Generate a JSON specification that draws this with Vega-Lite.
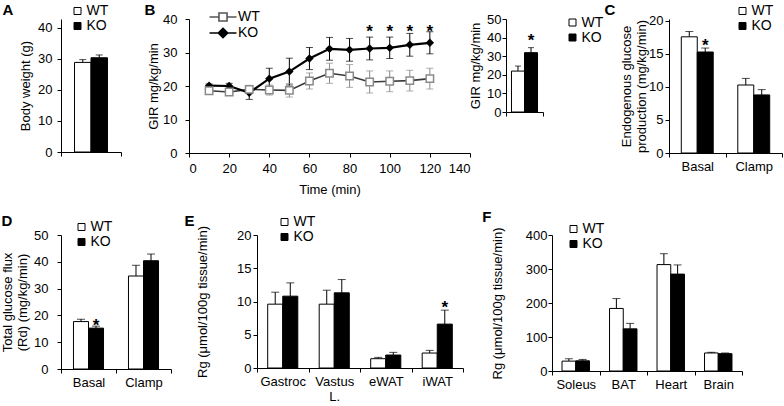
{
"$schema": "https://vega.github.io/schema/vega-lite/v6.json",
"padding": {"left": 1, "top": 2, "right": 0, "bottom": 0},
"background": "white",
"config": {
  "font": "Liberation Sans",
  "view": {"stroke": null},
  "axis": {"grid": false, "domainColor": "black", "tickColor": "black", "labelColor": "black", "titleColor": "black", "labelFontSize": 13, "titleFontSize": 13, "titleFontWeight": "normal", "tickSize": 4, "domainWidth": 1, "tickWidth": 1, "labelFont": "Liberation Sans", "titleFont": "Liberation Sans", "titleLineHeight": 15},
  "legend": {"orient": "none", "labelFontSize": 14, "labelColor": "black", "labelFont": "Liberation Sans", "padding": 0, "rowPadding": 1, "labelOffset": 2, "symbolSize": 49, "symbolType": "square", "symbolStrokeWidth": 1, "symbolStrokeColor": "black"},
  "title": {"fontSize": 15, "fontWeight": "bold", "anchor": "start", "frame": "bounds", "color": "black", "font": "Liberation Sans"}
},
"datasets": {
  "bars": [
    {"panel": "A", "cat": "Body", "group": "WT", "value": 28.9, "hi": 29.8},
    {"panel": "A", "cat": "Body", "group": "KO", "value": 30.4, "hi": 31.3},
    {"panel": "GIR", "cat": "GIR", "group": "WT", "value": 22.0, "hi": 24.7},
    {"panel": "GIR", "cat": "GIR", "group": "KO", "value": 31.9, "hi": 34.6, "star": 40.9},
    {"panel": "C", "cat": "Basal", "group": "WT", "value": 17.6, "hi": 18.4},
    {"panel": "C", "cat": "Basal", "group": "KO", "value": 15.3, "hi": 15.9, "star": 16.9},
    {"panel": "C", "cat": "Clamp", "group": "WT", "value": 10.3, "hi": 11.3},
    {"panel": "C", "cat": "Clamp", "group": "KO", "value": 8.8, "hi": 9.6},
    {"panel": "D", "cat": "Basal", "group": "WT", "value": 17.7, "hi": 18.6},
    {"panel": "D", "cat": "Basal", "group": "KO", "value": 15.25, "hi": 16.0, "star": 17.9},
    {"panel": "D", "cat": "Clamp", "group": "WT", "value": 34.7, "hi": 38.7},
    {"panel": "D", "cat": "Clamp", "group": "KO", "value": 40.4, "hi": 42.9},
    {"panel": "E", "cat": "Gastroc", "group": "WT", "value": 9.6, "hi": 11.4},
    {"panel": "E", "cat": "Gastroc", "group": "KO", "value": 10.8, "hi": 12.8},
    {"panel": "E", "cat": "Vastus L.", "group": "WT", "value": 9.6, "hi": 11.7},
    {"panel": "E", "cat": "Vastus L.", "group": "KO", "value": 11.3, "hi": 13.3},
    {"panel": "E", "cat": "eWAT", "group": "WT", "value": 1.4, "hi": 1.6},
    {"panel": "E", "cat": "eWAT", "group": "KO", "value": 1.95, "hi": 2.35},
    {"panel": "E", "cat": "iWAT", "group": "WT", "value": 2.25, "hi": 2.65},
    {"panel": "E", "cat": "iWAT", "group": "KO", "value": 6.6, "hi": 8.7, "star": 9.8},
    {"panel": "F", "cat": "Soleus", "group": "WT", "value": 29, "hi": 36},
    {"panel": "F", "cat": "Soleus", "group": "KO", "value": 30, "hi": 34},
    {"panel": "F", "cat": "BAT", "group": "WT", "value": 184, "hi": 213},
    {"panel": "F", "cat": "BAT", "group": "KO", "value": 124, "hi": 140},
    {"panel": "F", "cat": "Heart", "group": "WT", "value": 313, "hi": 345},
    {"panel": "F", "cat": "Heart", "group": "KO", "value": 285, "hi": 312},
    {"panel": "F", "cat": "Brain", "group": "WT", "value": 53, "hi": 55},
    {"panel": "F", "cat": "Brain", "group": "KO", "value": 51, "hi": 53}
  ],
  "gir": [
    {"t": 10, "group": "WT", "mean": 18.6, "lo": 17.9, "hi": 19.3},
    {"t": 20, "group": "WT", "mean": 18.2, "lo": 17.5, "hi": 18.9},
    {"t": 30, "group": "WT", "mean": 19.0, "lo": 17.8, "hi": 20.2},
    {"t": 40, "group": "WT", "mean": 18.8, "lo": 17.3, "hi": 20.3},
    {"t": 50, "group": "WT", "mean": 18.7, "lo": 16.7, "hi": 20.7},
    {"t": 60, "group": "WT", "mean": 21.5, "lo": 19.1, "hi": 23.9},
    {"t": 70, "group": "WT", "mean": 23.8, "lo": 20.8, "hi": 26.8},
    {"t": 80, "group": "WT", "mean": 23.0, "lo": 19.6, "hi": 26.4},
    {"t": 90, "group": "WT", "mean": 21.2, "lo": 17.9, "hi": 24.5},
    {"t": 100, "group": "WT", "mean": 21.4, "lo": 18.3, "hi": 24.5},
    {"t": 110, "group": "WT", "mean": 21.6, "lo": 18.5, "hi": 24.7},
    {"t": 120, "group": "WT", "mean": 22.2, "lo": 19.1, "hi": 25.3},
    {"t": 10, "group": "KO", "mean": 20.1, "lo": 19.6, "hi": 20.6},
    {"t": 20, "group": "KO", "mean": 20.0, "lo": 19.2, "hi": 20.8},
    {"t": 30, "group": "KO", "mean": 18.0, "lo": 16.0, "hi": 20.0},
    {"t": 40, "group": "KO", "mean": 22.2, "lo": 19.1, "hi": 25.3},
    {"t": 50, "group": "KO", "mean": 24.3, "lo": 20.3, "hi": 28.3},
    {"t": 60, "group": "KO", "mean": 28.2, "lo": 24.9, "hi": 31.5},
    {"t": 70, "group": "KO", "mean": 31.1, "lo": 27.7, "hi": 34.5},
    {"t": 80, "group": "KO", "mean": 30.8, "lo": 27.4, "hi": 34.2},
    {"t": 90, "group": "KO", "mean": 31.2, "lo": 27.8, "hi": 34.6, "star": 37.7},
    {"t": 100, "group": "KO", "mean": 31.4, "lo": 28.2, "hi": 34.6, "star": 37.7},
    {"t": 110, "group": "KO", "mean": 32.3, "lo": 28.9, "hi": 35.7, "star": 37.7},
    {"t": 120, "group": "KO", "mean": 32.9, "lo": 29.6, "hi": 36.2, "star": 37.7}
  ]
},
"resolve": {"scale": {"x": "independent", "y": "independent", "xOffset": "independent", "fill": "independent", "stroke": "independent", "shape": "independent", "color": "independent"}},
"spacing": 13,
"vconcat": [
  {
    "concat": [
      {
        "width": 60, "height": 133,
        "title": {"text": "A", "dx": -17, "offset": -13.7},
        "data": {"name": "bars"},
        "transform": [{"filter": "datum.panel === 'A'"}],
        "encoding": {
          "x": {"field": "cat", "type": "nominal", "sort": null, "scale": {"paddingInner": 0, "paddingOuter": 0}, "axis": {"title": null, "labels": false, "tickBand": "extent"}},
          "xOffset": {"field": "group", "type": "nominal", "sort": ["WT", "KO"], "scale": {"paddingInner": 0, "paddingOuter": 0.82}}
        },
        "layer": [
          {"mark": {"type": "rule", "color": "black"}, "encoding": {"y": {"field": "value", "type": "quantitative", "scale": {"domain": [0, 42.9], "nice": false}, "axis": {"title": "Body weight (g)", "values": [0, 10, 20, 30, 40], "labelPadding": 5, "titlePadding": 5}}, "y2": {"field": "hi"}}},
          {"mark": {"type": "tick", "color": "black", "size": 7, "thickness": 1}, "encoding": {"y": {"field": "hi", "type": "quantitative", "scale": {"domain": [0, 42.9], "nice": false}, "axis": {"title": "Body weight (g)", "values": [0, 10, 20, 30, 40], "labelPadding": 5, "titlePadding": 5}}}},
          {"mark": {"type": "bar", "stroke": "black", "strokeWidth": 1}, "encoding": {"y": {"field": "value", "type": "quantitative", "scale": {"domain": [0, 42.9], "nice": false}, "axis": {"title": "Body weight (g)", "values": [0, 10, 20, 30, 40], "labelPadding": 5, "titlePadding": 5}}, "fill": {"field": "group", "type": "nominal", "scale": {"domain": ["WT", "KO"], "range": ["white", "black"]}, "legend": {"title": null, "legendX": 9.5, "legendY": -15}}}}
        ]
      },
      {
        "concat": [
          {
            "spacing": -2,
            "resolve": {"scale": {"x": "independent", "y": "independent", "xOffset": "independent", "fill": "independent", "stroke": "independent", "shape": "independent", "color": "independent"}},
            "hconcat": [
              {
                "width": 281, "height": 134,
                "title": {"text": "B", "dx": -3, "offset": -8.7},
                "data": {"name": "gir"},
                "encoding": {
                  "x": {"field": "t", "type": "quantitative", "scale": {"domain": [0, 140], "nice": false}, "axis": {"title": "Time (min)", "values": [0, 20, 40, 60, 80, 100, 120, 140], "labelPadding": 5, "titlePadding": 8}}
                },
                "layer": [
                  {"mark": {"type": "rule", "strokeWidth": 1}, "encoding": {"y": {"field": "lo", "type": "quantitative", "scale": {"domain": [0, 40], "nice": false}, "axis": {"title": "GIR mg/kg/min", "values": [0, 10, 20, 30, 40], "labelPadding": 8, "titlePadding": 2}}, "y2": {"field": "hi"}, "color": {"condition": {"test": "datum.group === 'WT'", "value": "#8a8a8a"}, "value": "black"}}},
                  {"mark": {"type": "tick", "orient": "horizontal", "size": 7, "thickness": 1}, "encoding": {"y": {"field": "lo", "type": "quantitative", "scale": {"domain": [0, 40], "nice": false}, "axis": {"title": "GIR mg/kg/min", "values": [0, 10, 20, 30, 40], "labelPadding": 8, "titlePadding": 2}}, "color": {"condition": {"test": "datum.group === 'WT'", "value": "#8a8a8a"}, "value": "black"}}},
                  {"mark": {"type": "tick", "orient": "horizontal", "size": 7, "thickness": 1}, "encoding": {"y": {"field": "hi", "type": "quantitative", "scale": {"domain": [0, 40], "nice": false}, "axis": {"title": "GIR mg/kg/min", "values": [0, 10, 20, 30, 40], "labelPadding": 8, "titlePadding": 2}}, "color": {"condition": {"test": "datum.group === 'WT'", "value": "#8a8a8a"}, "value": "black"}}},
                  {"transform": [{"filter": "datum.group === 'WT'"}], "mark": {"type": "line", "color": "#3a3a3a", "strokeWidth": 1.6}, "encoding": {"y": {"field": "mean", "type": "quantitative", "scale": {"domain": [0, 40], "nice": false}, "axis": {"title": "GIR mg/kg/min", "values": [0, 10, 20, 30, 40], "labelPadding": 8, "titlePadding": 2}}}},
                  {"transform": [{"filter": "datum.group === 'KO'"}], "mark": {"type": "line", "color": "black", "strokeWidth": 2.2}, "encoding": {"y": {"field": "mean", "type": "quantitative", "scale": {"domain": [0, 40], "nice": false}, "axis": {"title": "GIR mg/kg/min", "values": [0, 10, 20, 30, 40], "labelPadding": 8, "titlePadding": 2}}}},
                  {"transform": [{"filter": "datum.group === 'KO'"}], "mark": {"type": "point", "shape": "diamond", "filled": true, "color": "black", "size": 70, "opacity": 1}, "encoding": {"y": {"field": "mean", "type": "quantitative", "scale": {"domain": [0, 40], "nice": false}, "axis": {"title": "GIR mg/kg/min", "values": [0, 10, 20, 30, 40], "labelPadding": 8, "titlePadding": 2}}}},
                  {"transform": [{"filter": "datum.group === 'WT'"}], "mark": {"type": "point", "shape": "square", "filled": true, "fill": "white", "stroke": "#8a8a8a", "strokeWidth": 1.5, "size": 55, "opacity": 1}, "encoding": {"y": {"field": "mean", "type": "quantitative", "scale": {"domain": [0, 40], "nice": false}, "axis": {"title": "GIR mg/kg/min", "values": [0, 10, 20, 30, 40], "labelPadding": 8, "titlePadding": 2}}}},
                  {"transform": [{"filter": "datum.t === 10"}], "mark": {"type": "point", "size": 0, "filled": true, "opacity": 1}, "encoding": {
                    "y": {"field": "mean", "type": "quantitative", "scale": {"domain": [0, 40], "nice": false}, "axis": {"title": "GIR mg/kg/min", "values": [0, 10, 20, 30, 40], "labelPadding": 8, "titlePadding": 2}},
                    "shape": {"field": "group", "type": "nominal", "scale": {"domain": ["WT", "KO"], "range": ["M-2,0H-0.6M0.6,0H2M-0.6,-0.6H0.6V0.6H-0.6Z", "M-2,0H2M0,-0.7L0.7,0L0,0.7L-0.7,0Z"]}, "legend": {"title": null, "legendX": 26, "legendY": -10, "symbolSize": 182, "labelOffset": 7, "rowPadding": 0, "symbolStrokeWidth": 1.6, "symbolStrokeColor": null}},
                    "stroke": {"field": "group", "type": "nominal", "scale": {"domain": ["WT", "KO"], "range": ["#555555", "black"]}, "legend": {"title": null, "legendX": 26, "legendY": -10, "symbolSize": 182, "labelOffset": 7, "rowPadding": 0, "symbolStrokeWidth": 1.6, "symbolStrokeColor": null}},
                    "fill": {"field": "group", "type": "nominal", "scale": {"domain": ["WT", "KO"], "range": ["white", "black"]}, "legend": {"title": null, "legendX": 26, "legendY": -10, "symbolSize": 182, "labelOffset": 7, "rowPadding": 0, "symbolStrokeWidth": 1.6, "symbolStrokeColor": null}}
                  }},
                  {"transform": [{"filter": "isValid(datum.star)"}], "mark": {"type": "text", "text": "*", "fontSize": 17, "fontWeight": "bold", "baseline": "middle", "dy": 5, "color": "black"}, "encoding": {"y": {"field": "star", "type": "quantitative", "scale": {"domain": [0, 40], "nice": false}, "axis": {"title": "GIR mg/kg/min", "values": [0, 10, 20, 30, 40], "labelPadding": 8, "titlePadding": 2}}}}
                ]
              },
              {
                "width": 37, "height": 93,
                "data": {"name": "bars"},
                "transform": [{"filter": "datum.panel === 'GIR'"}],
                "encoding": {
                  "x": {"field": "cat", "type": "nominal", "sort": null, "scale": {"paddingInner": 0, "paddingOuter": 0}, "axis": {"title": null, "labels": false, "tickBand": "extent"}},
                  "xOffset": {"field": "group", "type": "nominal", "sort": ["WT", "KO"], "scale": {"paddingInner": 0, "paddingOuter": 0.42}}
                },
                "layer": [
                  {"mark": {"type": "rule", "color": "black"}, "encoding": {"y": {"field": "value", "type": "quantitative", "scale": {"domain": [0, 50], "nice": false}, "axis": {"title": "GIR mg/kg/min", "values": [0, 10, 20, 30, 40, 50], "labelPadding": 1, "titlePadding": 4}}, "y2": {"field": "hi"}}},
                  {"mark": {"type": "tick", "color": "black", "size": 6, "thickness": 1}, "encoding": {"y": {"field": "hi", "type": "quantitative", "scale": {"domain": [0, 50], "nice": false}, "axis": {"title": "GIR mg/kg/min", "values": [0, 10, 20, 30, 40, 50], "labelPadding": 1, "titlePadding": 4}}}},
                  {"mark": {"type": "bar", "stroke": "black", "strokeWidth": 1}, "encoding": {"y": {"field": "value", "type": "quantitative", "scale": {"domain": [0, 50], "nice": false}, "axis": {"title": "GIR mg/kg/min", "values": [0, 10, 20, 30, 40, 50], "labelPadding": 1, "titlePadding": 4}}, "fill": {"field": "group", "type": "nominal", "scale": {"domain": ["WT", "KO"], "range": ["white", "black"]}, "legend": {"title": null, "legendX": 59.5, "legendY": -3.5}}}},
                  {"transform": [{"filter": "isValid(datum.star)"}], "mark": {"type": "text", "text": "*", "fontSize": 17, "fontWeight": "bold", "baseline": "middle", "dy": 5, "color": "black"}, "encoding": {"y": {"field": "star", "type": "quantitative", "scale": {"domain": [0, 50], "nice": false}, "axis": {"title": "GIR mg/kg/min", "values": [0, 10, 20, 30, 40, 50], "labelPadding": 1, "titlePadding": 4}}}}
                ]
              }
            ]
          },
          {
            "width": 113, "height": 134,
            "title": {"text": "C", "dx": -16, "offset": -13.7},
            "data": {"name": "bars"},
            "transform": [{"filter": "datum.panel === 'C'"}],
            "encoding": {
              "x": {"field": "cat", "type": "nominal", "sort": null, "scale": {"paddingInner": 0, "paddingOuter": 0}, "axis": {"title": null, "labelAngle": 0, "tickBand": "extent", "labelPadding": 3}},
              "xOffset": {"field": "group", "type": "nominal", "sort": ["WT", "KO"], "scale": {"paddingInner": 0, "paddingOuter": 0.77}}
            },
            "layer": [
              {"mark": {"type": "rule", "color": "black"}, "encoding": {"y": {"field": "value", "type": "quantitative", "scale": {"domain": [0, 20.3], "nice": false}, "axis": {"title": ["Endogenous glucose", "production (mg/kg/min)"], "values": [0, 5, 10, 15, 20], "labelPadding": 2, "titlePadding": 0}}, "y2": {"field": "hi"}}},
              {"mark": {"type": "tick", "color": "black", "size": 8, "thickness": 1}, "encoding": {"y": {"field": "hi", "type": "quantitative", "scale": {"domain": [0, 20.3], "nice": false}, "axis": {"title": ["Endogenous glucose", "production (mg/kg/min)"], "values": [0, 5, 10, 15, 20], "labelPadding": 2, "titlePadding": 0}}}},
              {"mark": {"type": "bar", "stroke": "black", "strokeWidth": 1}, "encoding": {"y": {"field": "value", "type": "quantitative", "scale": {"domain": [0, 20.3], "nice": false}, "axis": {"title": ["Endogenous glucose", "production (mg/kg/min)"], "values": [0, 5, 10, 15, 20], "labelPadding": 2, "titlePadding": 0}}, "fill": {"field": "group", "type": "nominal", "scale": {"domain": ["WT", "KO"], "range": ["white", "black"]}, "legend": {"title": null, "legendX": 66.5, "legendY": -15}}}},
              {"transform": [{"filter": "isValid(datum.star)"}], "mark": {"type": "text", "text": "*", "fontSize": 17, "fontWeight": "bold", "baseline": "middle", "dy": 5, "color": "black"}, "encoding": {"y": {"field": "star", "type": "quantitative", "scale": {"domain": [0, 20.3], "nice": false}, "axis": {"title": ["Endogenous glucose", "production (mg/kg/min)"], "values": [0, 5, 10, 15, 20], "labelPadding": 2, "titlePadding": 0}}}}
            ]
          }
        ],
        "columns": 2,
        "align": "none",
        "spacing": 0,
        "resolve": {"scale": {"x": "independent", "y": "independent", "xOffset": "independent", "fill": "independent", "stroke": "independent", "shape": "independent", "color": "independent"}}
      }
    ],
    "columns": 2,
    "align": "none",
    "spacing": 22,
    "resolve": {"scale": {"x": "independent", "y": "independent", "xOffset": "independent", "fill": "independent", "stroke": "independent", "shape": "independent", "color": "independent"}}
  },
  {
    "spacing": 12,
    "resolve": {"scale": {"x": "independent", "y": "independent", "xOffset": "independent", "fill": "independent", "stroke": "independent", "shape": "independent", "color": "independent"}},
    "hconcat": [
      {
        "width": 110, "height": 134,
        "title": {"text": "D", "dx": 0, "offset": -8.5},
        "data": {"name": "bars"},
        "transform": [{"filter": "datum.panel === 'D'"}],
        "encoding": {
          "x": {"field": "cat", "type": "nominal", "sort": null, "scale": {"paddingInner": 0, "paddingOuter": 0}, "axis": {"title": null, "labelAngle": 0, "tickBand": "extent", "labelPadding": 3}},
          "xOffset": {"field": "group", "type": "nominal", "sort": ["WT", "KO"], "scale": {"paddingInner": 0, "paddingOuter": 0.83}}
        },
        "layer": [
          {"mark": {"type": "rule", "color": "black"}, "encoding": {"y": {"field": "value", "type": "quantitative", "scale": {"domain": [0, 50], "nice": false}, "axis": {"title": ["Total glucose flux", "(Rd) (mg/kg/min)"], "values": [0, 10, 20, 30, 40, 50], "labelPadding": 9, "titlePadding": 4}}, "y2": {"field": "hi"}}},
          {"mark": {"type": "tick", "color": "black", "size": 8, "thickness": 1}, "encoding": {"y": {"field": "hi", "type": "quantitative", "scale": {"domain": [0, 50], "nice": false}, "axis": {"title": ["Total glucose flux", "(Rd) (mg/kg/min)"], "values": [0, 10, 20, 30, 40, 50], "labelPadding": 9, "titlePadding": 4}}}},
          {"mark": {"type": "bar", "stroke": "black", "strokeWidth": 1}, "encoding": {"y": {"field": "value", "type": "quantitative", "scale": {"domain": [0, 50], "nice": false}, "axis": {"title": ["Total glucose flux", "(Rd) (mg/kg/min)"], "values": [0, 10, 20, 30, 40, 50], "labelPadding": 9, "titlePadding": 4}}, "fill": {"field": "group", "type": "nominal", "scale": {"domain": ["WT", "KO"], "range": ["white", "black"]}, "legend": {"title": null, "legendX": 13.5, "legendY": -15}}}},
          {"transform": [{"filter": "isValid(datum.star)"}], "mark": {"type": "text", "text": "*", "fontSize": 17, "fontWeight": "bold", "baseline": "middle", "dy": 5, "color": "black"}, "encoding": {"y": {"field": "star", "type": "quantitative", "scale": {"domain": [0, 50], "nice": false}, "axis": {"title": ["Total glucose flux", "(Rd) (mg/kg/min)"], "values": [0, 10, 20, 30, 40, 50], "labelPadding": 9, "titlePadding": 4}}}}
        ]
      },
      {
        "spacing": 18,
        "resolve": {"scale": {"x": "independent", "y": "independent", "xOffset": "independent", "fill": "independent", "stroke": "independent", "shape": "independent", "color": "independent"}},
        "hconcat": [
          {
            "width": 206, "height": 133,
            "title": {"text": "E", "dx": -12, "offset": -13.5},
            "data": {"name": "bars"},
            "transform": [{"filter": "datum.panel === 'E'"}],
            "encoding": {
              "x": {"field": "cat", "type": "nominal", "sort": null, "scale": {"paddingInner": 0, "paddingOuter": 0}, "axis": {"title": null, "labelAngle": 0, "tickBand": "extent", "labelPadding": 3, "labelExpr": "datum.value === 'Vastus L.' ? ['Vastus', 'L.'] : datum.value", "labelLineHeight": 15}},
              "xOffset": {"field": "group", "type": "nominal", "sort": ["WT", "KO"], "scale": {"paddingInner": 0, "paddingOuter": 0.71}}
            },
            "layer": [
              {"mark": {"type": "rule", "color": "black"}, "encoding": {"y": {"field": "value", "type": "quantitative", "scale": {"domain": [0, 20], "nice": false}, "axis": {"title": "Rg (μmol/100g tissue/min)", "values": [0, 5, 10, 15, 20], "labelPadding": 2, "titlePadding": 27}}, "y2": {"field": "hi"}}},
              {"mark": {"type": "tick", "color": "black", "size": 8, "thickness": 1}, "encoding": {"y": {"field": "hi", "type": "quantitative", "scale": {"domain": [0, 20], "nice": false}, "axis": {"title": "Rg (μmol/100g tissue/min)", "values": [0, 5, 10, 15, 20], "labelPadding": 2, "titlePadding": 27}}}},
              {"mark": {"type": "bar", "stroke": "black", "strokeWidth": 1}, "encoding": {"y": {"field": "value", "type": "quantitative", "scale": {"domain": [0, 20], "nice": false}, "axis": {"title": "Rg (μmol/100g tissue/min)", "values": [0, 5, 10, 15, 20], "labelPadding": 2, "titlePadding": 27}}, "fill": {"field": "group", "type": "nominal", "scale": {"domain": ["WT", "KO"], "range": ["white", "black"]}, "legend": {"title": null, "legendX": 20.5, "legendY": -20}}}},
              {"transform": [{"filter": "isValid(datum.star)"}], "mark": {"type": "text", "text": "*", "fontSize": 17, "fontWeight": "bold", "baseline": "middle", "dy": 5, "color": "black"}, "encoding": {"y": {"field": "star", "type": "quantitative", "scale": {"domain": [0, 20], "nice": false}, "axis": {"title": "Rg (μmol/100g tissue/min)", "values": [0, 5, 10, 15, 20], "labelPadding": 2, "titlePadding": 27}}}}
            ]
          },
          {
            "width": 190, "height": 136,
            "title": {"text": "F", "dx": -9, "offset": -2.5},
            "data": {"name": "bars"},
            "transform": [{"filter": "datum.panel === 'F'"}],
            "encoding": {
              "x": {"field": "cat", "type": "nominal", "sort": null, "scale": {"paddingInner": 0, "paddingOuter": 0}, "axis": {"title": null, "labelAngle": 0, "tickBand": "extent", "labelPadding": 3}},
              "xOffset": {"field": "group", "type": "nominal", "sort": ["WT", "KO"], "scale": {"paddingInner": 0, "paddingOuter": 0.73}}
            },
            "layer": [
              {"mark": {"type": "rule", "color": "black"}, "encoding": {"y": {"field": "value", "type": "quantitative", "scale": {"domain": [0, 400], "nice": false}, "axis": {"title": "Rg (μmol/100g tissue/min)", "values": [0, 100, 200, 300, 400], "labelPadding": 1, "titlePadding": 21}}, "y2": {"field": "hi"}}},
              {"mark": {"type": "tick", "color": "black", "size": 8, "thickness": 1}, "encoding": {"y": {"field": "hi", "type": "quantitative", "scale": {"domain": [0, 400], "nice": false}, "axis": {"title": "Rg (μmol/100g tissue/min)", "values": [0, 100, 200, 300, 400], "labelPadding": 1, "titlePadding": 21}}}},
              {"mark": {"type": "bar", "stroke": "black", "strokeWidth": 1}, "encoding": {"y": {"field": "value", "type": "quantitative", "scale": {"domain": [0, 400], "nice": false}, "axis": {"title": "Rg (μmol/100g tissue/min)", "values": [0, 100, 200, 300, 400], "labelPadding": 1, "titlePadding": 21}}, "fill": {"field": "group", "type": "nominal", "scale": {"domain": ["WT", "KO"], "range": ["white", "black"]}, "legend": {"title": null, "legendX": 14.5, "legendY": -13}}}}
            ]
          }
        ]
      }
    ]
  }
]
}
